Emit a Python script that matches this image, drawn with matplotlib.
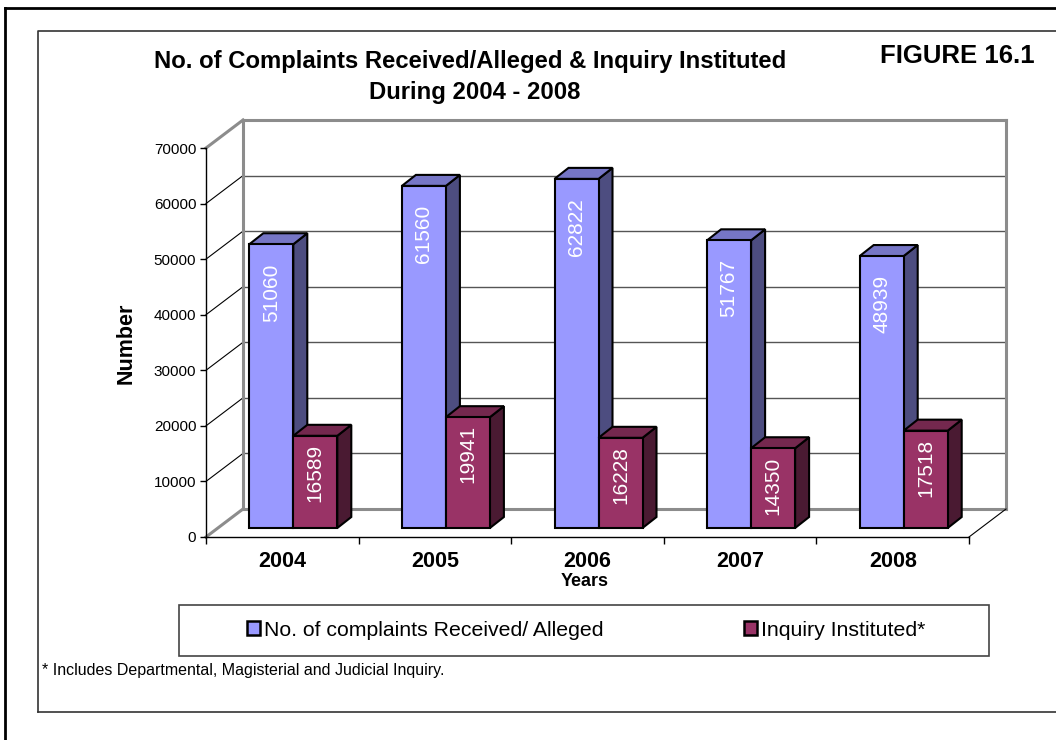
import matplotlib
matplotlib.use("Agg")
import matplotlib.pyplot as plt
from matplotlib.patches import Polygon, Rectangle, Patch
from matplotlib.lines import Line2D

plt.rcParams["font.family"] = ["Liberation Sans", "DejaVu Sans"]

# Данные
years = ["2004", "2005", "2006", "2007", "2008"]
received = [51060, 61560, 62822, 51767, 48939]
inquiry = [16589, 19941, 16228, 14350, 17518]
series_names = ["No. of complaints Received/ Alleged", "Inquiry Instituted*"]

W, H = 1056, 740


def fx(px):
    return px / W


def fy(py):
    return 1 - py / H


fig = plt.figure(figsize=(W / 100, H / 100), dpi=100)

# рамки страницы
fig.add_artist(Line2D([fx(5), fx(5)], [fy(8), fy(740)], color="black", lw=2))
fig.add_artist(Line2D([fx(5), fx(1056)], [fy(8), fy(8)], color="black", lw=2))
fig.add_artist(Line2D([fx(38), fx(38), fx(1056)], [fy(712), fy(31), fy(31)],
                      color="#333333", lw=1.2))
fig.add_artist(Line2D([fx(38), fx(1056)], [fy(712), fy(712)], color="#333333", lw=1.2))

ax = fig.add_axes([fx(206), fy(537), (969 - 206) / W, (537 - 148) / H])
ax.set_xlim(0, 5)
ax.set_ylim(0, 70000)

# пиксели -> единицы данных
px_x = 5 / (969 - 206)
px_y = 70000 / (537 - 148)

wall_dx, wall_dy = 37 * px_x, 28 * px_y   # глубина стенок
bar_ox, bar_oy = 11 * px_x, 9 * px_y      # сдвиг столбиков вглубь
bar_dx, bar_dy = 14 * px_x, 11 * px_y     # толщина столбика
bar_w = 44 * px_x

ymax = 70000
grid_vals = list(range(0, ymax + 1, 10000))

# стенки и сетка
edge = dict(color="#8c8c8c", lw=2.2, clip_on=False, zorder=1,
            solid_capstyle="projecting")
for v in grid_vals:
    if v in (0, ymax):
        ax.plot([0, wall_dx], [v, v + wall_dy], **edge)
        ax.plot([wall_dx, 5 + wall_dx], [v + wall_dy, v + wall_dy], **edge)
    else:
        ax.plot([0, wall_dx], [v, v + wall_dy], color="black", lw=0.8,
                clip_on=False, zorder=1)
        ax.plot([wall_dx, 5 + wall_dx], [v + wall_dy, v + wall_dy],
                color="#555555", lw=1.0, clip_on=False, zorder=1)
ax.plot([wall_dx, wall_dx], [wall_dy, ymax + wall_dy], **edge)
ax.plot([5 + wall_dx, 5 + wall_dx], [wall_dy, ymax + wall_dy], **edge)
ax.plot([5, 5 + wall_dx], [0, wall_dy], color="black", lw=0.8,
        clip_on=False, zorder=1)

colors = [
    {"front": "#9999FF", "top": "#7676C6", "side": "#4D4D80", "off": 19},
    {"front": "#993366", "top": "#74284E", "side": "#4A1A32", "off": 8},
]


def draw_bar(xl, v, c):
    y0 = bar_oy
    y1 = v + bar_oy
    kw = dict(edgecolor="black", lw=1.5, joinstyle="miter", clip_on=False, zorder=3)
    side = [(xl + bar_w, y0), (xl + bar_w + bar_dx, y0 + bar_dy),
            (xl + bar_w + bar_dx, y1 + bar_dy), (xl + bar_w, y1)]
    top = [(xl, y1), (xl + bar_w, y1), (xl + bar_w + bar_dx, y1 + bar_dy),
           (xl + bar_dx, y1 + bar_dy)]
    front = [(xl, y0), (xl + bar_w, y0), (xl + bar_w, y1), (xl, y1)]
    ax.add_patch(Polygon(side, facecolor=c["side"], **kw))
    ax.add_patch(Polygon(top, facecolor=c["top"], **kw))
    ax.add_patch(Polygon(front, facecolor=c["front"], **kw))
    ax.text(xl + bar_w / 2, y1 - c["off"] * px_y, f"{v}", rotation=90,
            ha="center", va="top", color="white", fontsize=15, zorder=4)


for i in range(len(years)):
    center = i + 0.5 + bar_ox
    draw_bar(center - bar_w, received[i], colors[0])
    draw_bar(center, inquiry[i], colors[1])

# оси
for s in ["top", "right"]:
    ax.spines[s].set_visible(False)
ax.spines["left"].set_linewidth(1.0)
ax.spines["bottom"].set_linewidth(1.0)
ax.spines["left"].set_zorder(5)
ax.spines["bottom"].set_zorder(2)
ax.set_yticks(grid_vals)
ax.set_yticklabels([str(v) for v in grid_vals], fontsize=11)
ax.tick_params(axis="y", length=4, width=1, pad=3)
ax.set_xticks(range(6))
ax.set_xticklabels([])
ax.tick_params(axis="x", which="major", length=5, width=1)
ax.set_xticks([i + 0.5 for i in range(5)], minor=True)
ax.set_xticklabels(years, minor=True, fontsize=15.5, fontweight="bold")
ax.tick_params(axis="x", which="minor", length=0, pad=10)
ax.patch.set_visible(False)

# подписи
fig.text(fx(126), fy(343), "Number", rotation=90, ha="center", va="center",
         fontsize=15.5, fontweight="bold")
fig.text(fx(585), fy(582), "Years", ha="center", va="center",
         fontsize=13, fontweight="bold")
fig.text(fx(470), fy(68), "No. of Complaints Received/Alleged & Inquiry Instituted",
         ha="center", va="baseline", fontsize=17.2, fontweight="bold")
fig.text(fx(475), fy(99), "During 2004 - 2008", ha="center", va="baseline",
         fontsize=17.2, fontweight="bold")
fig.text(fx(1035), fy(63), "FIGURE 16.1", ha="right", va="baseline",
         fontsize=18.5, fontweight="bold")

# легенда
fig.add_artist(Rectangle((fx(179), fy(656)), (989 - 179) / W, (656 - 605) / H,
                         transform=fig.transFigure, facecolor="white",
                         edgecolor="#444444", lw=1.2))
handles = [Patch(facecolor=colors[k]["front"], edgecolor="black", lw=1.8)
           for k in range(2)]
fig.legend(handles, series_names, loc="center", bbox_to_anchor=(fx(586), fy(630)),
           ncol=2, frameon=False, fontsize=15.3, handlelength=0.62,
           handleheight=0.62, handletextpad=0.2, columnspacing=6.6)

fig.text(fx(42), fy(670), "* Includes Departmental, Magisterial and Judicial Inquiry.",
         ha="left", va="center", fontsize=11.5)

fig.savefig("out.png", dpi=100)
